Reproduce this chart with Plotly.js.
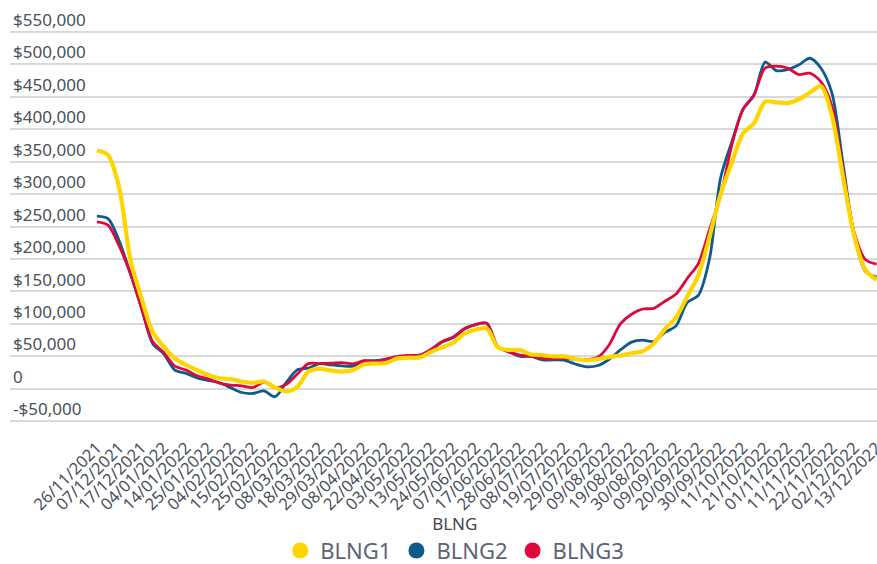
<!DOCTYPE html>
<html>
<head>
<meta charset="utf-8">
<script src="https://cdn.plot.ly/plotly-3.0.1.min.js"></script>
<style>
  html, body { margin: 0; padding: 0; background: #fff; }
  #chart { width: 877px; height: 564px; }
</style>
</head>
<body>
<div id="chart"></div>
<script>
// Tick labels (one every ~8 trading days)
const dates = [
  "26/11/2021","07/12/2021","17/12/2021","04/01/2022","14/01/2022","25/01/2022",
  "04/02/2022","15/02/2022","25/02/2022","08/03/2022","18/03/2022","29/03/2022",
  "08/04/2022","22/04/2022","03/05/2022","13/05/2022","24/05/2022","07/06/2022",
  "17/06/2022","28/06/2022","08/07/2022","19/07/2022","29/07/2022","09/08/2022",
  "19/08/2022","30/08/2022","09/09/2022","20/09/2022","30/09/2022","11/10/2022",
  "21/10/2022","01/11/2022","11/11/2022","22/11/2022","02/12/2022","13/12/2022"
];

// Series values, sampled at half-tick steps (71 points)
const blng1 = [
  367000,360000,310000,200000,140000,88000,65000,47000,37000,29000,
  21500,16500,15000,11500,9500,11500,2500,-4000,3000,27000,
  31000,28500,26500,29000,38000,39000,40000,47000,48000,48500,
  57000,64000,71000,85000,91000,93000,64000,60000,60000,53000,
  52000,50000,50000,46000,44000,46000,49000,51500,55000,58000,
  70000,92000,110000,142000,175000,234000,300000,348000,393000,409000,
  442000,441000,440000,445500,456000,466000,420000,325000,235000,183000,
  168000
];
const blng2 = [
  266000,262000,228000,178000,125000,70000,54000,29000,24000,17000,
  13000,9500,2000,-5500,-7000,-3000,-12000,10000,29500,32000,
  39000,37000,35500,35000,43000,43500,45700,49000,51000,52000,
  60000,72000,79000,92000,99000,101000,65000,57000,50000,50000,
  44600,44600,44000,38000,34000,36000,45700,60000,72000,75000,
  73000,87000,97000,133000,144000,200000,325000,380000,430000,452000,
  503000,490000,491600,498500,509000,494000,455000,345000,235000,181000,
  172000
];
const blng3 = [
  257000,252000,220000,178000,125000,73000,56000,35000,29000,20000,
  15500,9000,6000,4700,2000,10500,2000,7000,23000,39000,
  39000,39500,40500,38500,43500,42000,46000,50000,51500,52000,
  61000,73000,80000,93000,99000,101000,65000,57000,52000,50000,
  47000,46000,47000,45500,45000,49000,68000,100000,115000,123000,
  124000,135000,146000,170000,193000,245000,298000,375000,430000,453000,
  494000,497000,494000,484000,486000,473000,435000,335000,240000,199000,
  192000
];

const yTickVals = [-50000,0,50000,100000,150000,200000,250000,300000,350000,400000,450000,500000,550000];
const yTickLabels = ["-$50,000","0","$50,000","$100,000","$150,000","$200,000","$250,000","$300,000","$350,000","$400,000","$450,000","$500,000","$550,000"];

const seriesNames = ["BLNG1","BLNG2","BLNG3"];
const seriesColors = ["#FFD500","#0F5A8C","#DC0A3C"];

const xs = blng1.map((_, i) => i / 2);
const font = "'Noto Sans', 'Open Sans', sans-serif";

const lineTrace = (y, idx, width) => ({
  x: xs, y: y, type: "scatter", mode: "lines",
  line: { color: seriesColors[idx], width: width, shape: "spline", smoothing: 0.8 },
  showlegend: false, hoverinfo: "skip"
});

const legendTrace = (idx) => ({
  x: [null], y: [null], type: "scatter", mode: "markers",
  name: seriesNames[idx],
  marker: { color: seriesColors[idx], size: 20, symbol: "circle" },
  showlegend: true
});

const data = [
  lineTrace(blng2, 1, 2.8),
  lineTrace(blng3, 2, 2.8),
  lineTrace(blng1, 0, 4.2),
  legendTrace(0), legendTrace(1), legendTrace(2)
];

const layout = {
  width: 877, height: 564,
  margin: { l: 10, r: 0, t: 29, b: 140, autoexpand: false },
  paper_bgcolor: "#fff", plot_bgcolor: "#fff",
  font: { family: font, color: "#4a4f5c" },
  xaxis: {
    range: [-3.9, 35.02],
    tickvals: dates.map((_, i) => i),
    ticktext: dates,
    tickangle: -45,
    tickfont: { size: 16.5, color: "#4a4f5c", family: font },
    showgrid: false, zeroline: false, showline: false,
    ticks: "", ticklabelstandoff: 10,
    ticklabeloverflow: "allow",
    automargin: false
  },
  yaxis: {
    range: [-54000, 554000],
    tickvals: yTickVals,
    ticktext: yTickLabels,
    ticklabelposition: "inside top",
    ticklabeloverflow: "allow",
    tickfont: { size: 17, color: "#4a4f5c", family: font },
    showgrid: true, gridcolor: "#d9d9d9", gridwidth: 2,
    zeroline: false, showline: false, ticks: "",
    automargin: false
  },
  showlegend: true,
  legend: {
    orientation: "h",
    x: 0.513, xanchor: "center",
    yref: "container",
    y: 0.1, yanchor: "top",
    title: { text: "BLNG", side: "top center", font: { size: 17, color: "#3f4450", family: font } },
    font: { size: 22, color: "#5d6375", family: font },
    itemsizing: "trace",
    bgcolor: "rgba(0,0,0,0)"
  }
};

Plotly.newPlot("chart", data, layout, { displayModeBar: false, staticPlot: true });
</script>
</body>
</html>
